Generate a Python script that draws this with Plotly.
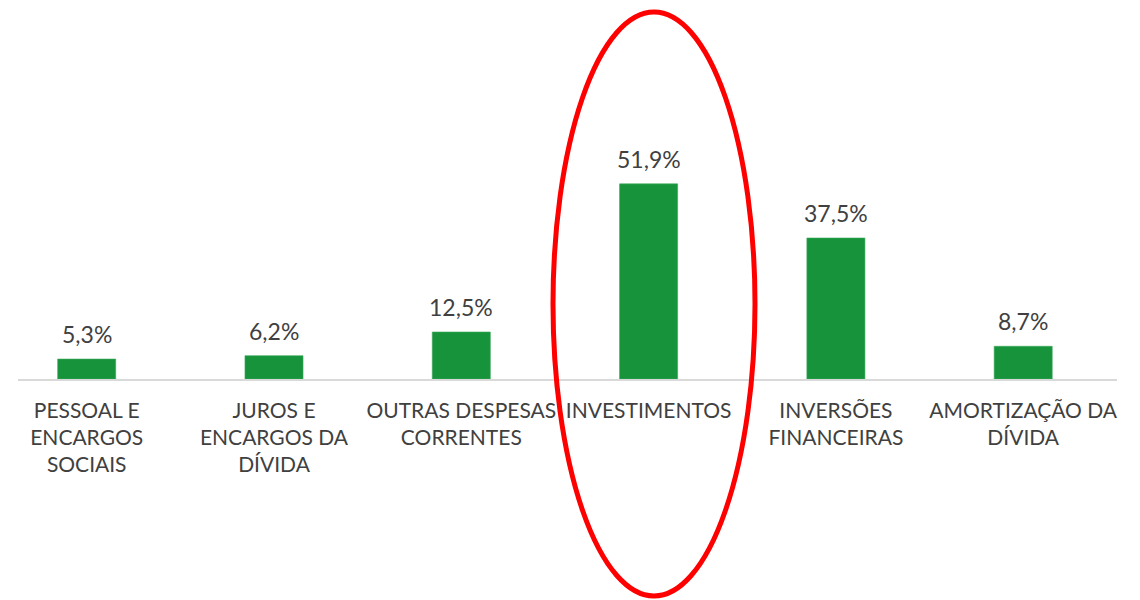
import plotly.graph_objects as go

categories = [
    "PESSOAL E<br>ENCARGOS<br>SOCIAIS",
    "JUROS E<br>ENCARGOS DA<br>DÍVIDA",
    "OUTRAS DESPESAS<br>CORRENTES",
    "INVESTIMENTOS",
    "INVERSÕES<br>FINANCEIRAS",
    "AMORTIZAÇÃO DA<br>DÍVIDA",
]
values = [5.3, 6.2, 12.5, 51.9, 37.5, 8.7]
value_labels = ["5,3%", "6,2%", "12,5%", "51,9%", "37,5%", "8,7%"]

W, H = 1140, 600
FONT = "Lato, Open Sans, sans-serif"
TXT = "#404040"

x_idx = list(range(len(categories)))

fig = go.Figure(
    go.Bar(
        x=x_idx,
        y=values,
        width=0.31,
        marker=dict(color="#17943B", line=dict(color="#3aa85a", width=0.6)),
        hoverinfo="skip",
    )
)

annotations = [
    dict(
        x=xi,
        y=v,
        xref="x",
        yref="y",
        text=lab,
        showarrow=False,
        yanchor="bottom",
        yshift=9,
        font=dict(family=FONT, size=23, color=TXT),
    )
    for xi, v, lab in zip(x_idx, values, value_labels)
]

fig.update_layout(
    width=W,
    height=H,
    margin=dict(l=0, r=0, t=0, b=0),
    paper_bgcolor="white",
    plot_bgcolor="white",
    showlegend=False,
    bargap=0.69,
    annotations=annotations,
    xaxis=dict(
        domain=[18 / W, 1117 / W],
        range=[-0.3668, 5.5008],
        tickmode="array",
        tickvals=x_idx,
        ticktext=categories,
        tickfont=dict(family=FONT, size=21, color=TXT),
        showline=True,
        linecolor="#d9d9d9",
        linewidth=1.5,
        showgrid=False,
        zeroline=False,
        ticks="",
        ticklabelstandoff=12,
    ),
    yaxis=dict(
        domain=[1 - 379 / H, 1],
        range=[0, 100.8],
        visible=False,
    ),
    shapes=[
        dict(
            type="circle",
            xref="paper",
            yref="paper",
            x0=553 / W,
            x1=755 / W,
            y0=1 - 596 / H,
            y1=1 - 12 / H,
            line=dict(color="#FF0000", width=5),
            fillcolor="rgba(0,0,0,0)",
        )
    ],
)

fig.write_html(
    "out.html",
    config={"displayModeBar": False, "staticPlot": True},
    post_script="document.body.style.margin='0';document.body.style.overflow='hidden';",
)
